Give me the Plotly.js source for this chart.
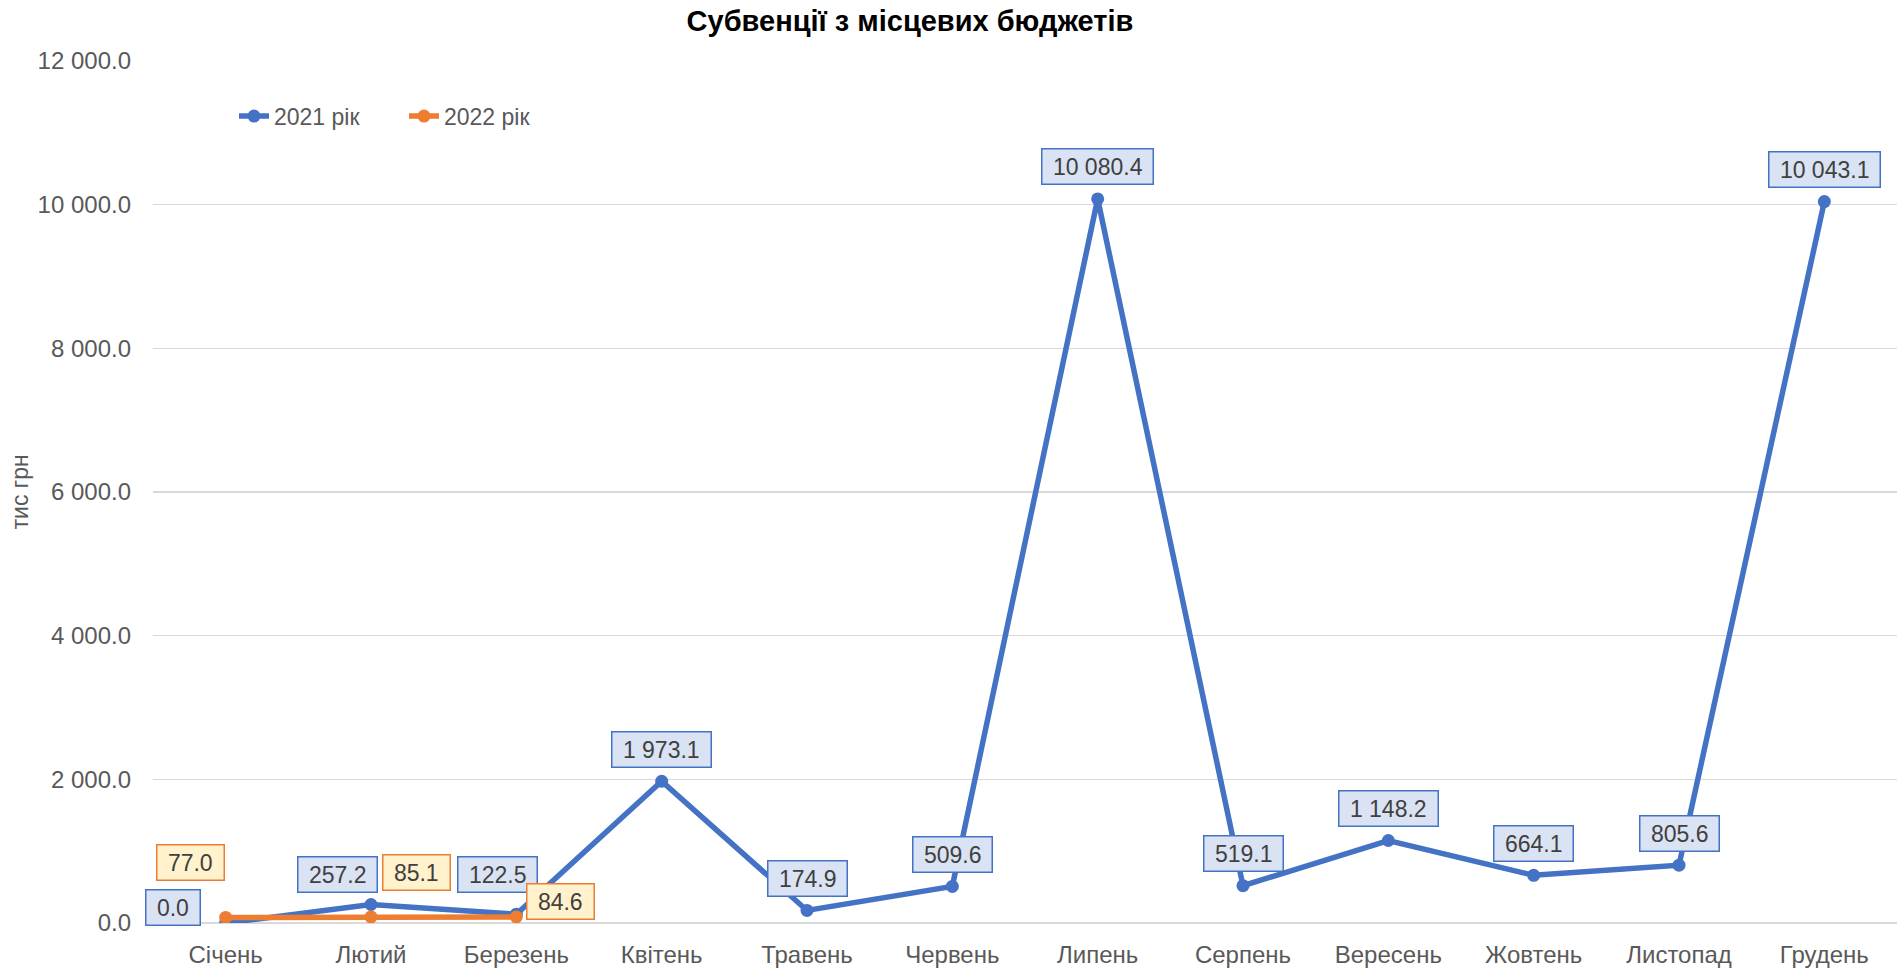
<!DOCTYPE html>
<html>
<head>
<meta charset="utf-8">
<script src="https://cdn.plot.ly/plotly-3.0.1.min.js"></script>
<style>
html,body{margin:0;padding:0;background:#fff;}
#chart{width:1899px;height:969px;}
</style>
</head>
<body>
<div id="chart"></div>
<script>
const months = ['Січень','Лютий','Березень','Квітень','Травень','Червень','Липень','Серпень','Вересень','Жовтень','Листопад','Грудень'];
const values2021 = [0.0, 257.2, 122.5, 1973.1, 174.9, 509.6, 10080.4, 519.1, 1148.2, 664.1, 805.6, 10043.1];
const months2022 = ['Січень','Лютий','Березень'];
const values2022 = [77.0, 85.1, 84.6];
const seriesNames = ['2021 рік','2022 рік'];
const yTicks = [0, 2000, 4000, 6000, 8000, 10000, 12000];

// label placement (pixel shifts), styling only
const shift2021 = [[-53,16],[-34,30],[-19,40],[0,32],[0,32],[0,32],[0,32],[0,32],[0,32],[0,32],[0,32],[0,32]];
const shift2022 = [[-35,55],[45,44],[44,15]];

const BLUE = '#4472C4', ORANGE = '#ED7D31';
const FONT = 'Liberation Sans, Arial, sans-serif';
const NB = '\u00a0';

function fmt(v){
  const s = v.toFixed(1);
  const [i,d] = s.split('.');
  return i.replace(/\B(?=(\d{3})+(?!\d))/g,' ') + '.' + d;
}

const annotations = [];
months.forEach((m,i)=>{
  annotations.push({x:m, y:values2021[i], xref:'x', yref:'y', text:NB+fmt(values2021[i])+NB, showarrow:false,
    xshift:shift2021[i][0], yshift:shift2021[i][1], bgcolor:'#DAE3F3', bordercolor:BLUE, borderwidth:1.5, borderpad:4,
    font:{family:FONT, size:23, color:'#404040'}});
});
months2022.forEach((m,i)=>{
  annotations.push({x:m, y:values2022[i], xref:'x', yref:'y', text:NB+fmt(values2022[i])+NB, showarrow:false,
    xshift:shift2022[i][0], yshift:shift2022[i][1], bgcolor:'#FFF2CC', bordercolor:ORANGE, borderwidth:1.5, borderpad:4,
    font:{family:FONT, size:23, color:'#404040'}});
});
annotations.push({xref:'paper', yref:'paper', x:(19.5-153)/1744, y:0.5, text:'тис грн', textangle:-90, showarrow:false,
  xanchor:'center', yanchor:'middle', font:{family:FONT, size:23, color:'#595959'}});

const traces = [
  {x:months, y:values2021, name:seriesNames[0], type:'scatter', mode:'lines+markers',
   line:{color:BLUE, width:5.5}, marker:{color:BLUE, size:13}},
  {x:months2022, y:values2022, name:seriesNames[1], type:'scatter', mode:'lines+markers',
   line:{color:ORANGE, width:5.5}, marker:{color:ORANGE, size:13}}
];

const layout = {
  width:1899, height:969,
  paper_bgcolor:'#fff', plot_bgcolor:'#fff',
  separators:'. ',
  margin:{l:153, r:2, t:61, b:46},
  title:{text:'<b>Субвенції з місцевих бюджетів</b>', x:910/1899, xref:'container', xanchor:'center',
    y:1-21/969, yref:'container', yanchor:'middle', font:{family:FONT, size:29, color:'#000'}},
  xaxis:{type:'category', range:[-0.5,11.5], showgrid:false, zeroline:false, showline:false,
    ticks:'', tickfont:{family:FONT, size:24, color:'#595959'}, ticklabelstandoff:15, fixedrange:true},
  yaxis:{range:[0,12000], tickvals:yTicks, tickformat:',.1f', showgrid:true, gridcolor:'#D9D9D9', gridwidth:1.5,
    zeroline:true, zerolinecolor:'#D9D9D9', zerolinewidth:1.5, showline:false, ticks:'',
    tickfont:{family:FONT, size:24, color:'#595959'}, ticklabelstandoff:21, fixedrange:true},
  showlegend:true,
  legend:{orientation:'h', x:(234-153)/1744, y:0.936, xanchor:'left', yanchor:'middle', bgcolor:'rgba(0,0,0,0)',
    font:{family:FONT, size:23, color:'#595959'}, traceorder:'normal', entrywidth:125, entrywidthmode:'pixels'},
  annotations:annotations
};

Plotly.newPlot('chart', traces, layout, {displayModeBar:false, staticPlot:true});
</script>
</body>
</html>
